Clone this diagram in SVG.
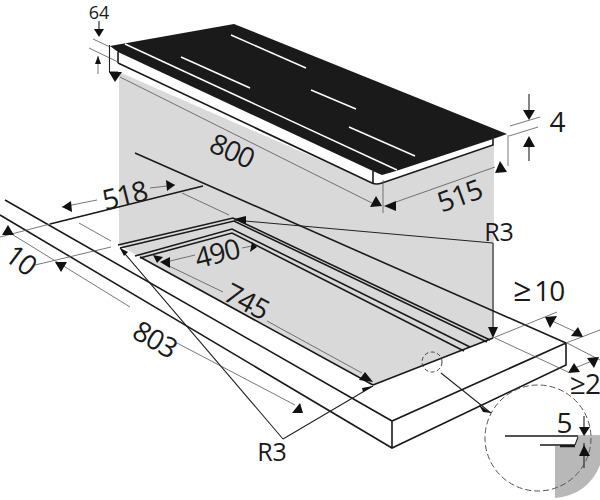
<svg xmlns="http://www.w3.org/2000/svg" width="600" height="500" viewBox="0 0 600 500">
<style>
text{font-family:"Open Sans","Noto Sans","Liberation Sans",sans-serif;fill:#1a1a1a;text-anchor:middle}
.d{font-size:28px;letter-spacing:-1px}
.r{font-size:25px;letter-spacing:0}
.t{fill:none;stroke:#555;stroke-width:.8}
.m{fill:none;stroke:#222;stroke-width:1.1}
.k{fill:none;stroke:#1a1a1a;stroke-width:1.6}
.w{fill:none;stroke:#fff;stroke-width:1.5}
.a{fill:#111}
</style>
<rect width="600" height="500" fill="#fff"/>
<path d="M119 72L375 184L494 144V338L373 385L140 257L119 245Z" fill="#d9d9d9"/>
<path d="M555 446H575L578 437H600V465Q588 495 555 498Z" fill="#b8b8b8"/>
<g id="hob">
<path d="M110 46L234 24L507 134L493 139L396 171L382 175L375 172L118 52Z" fill="#1a1a1a"/>
<path d="M117 53L375 174L382 177L493 140V145L382 183Q376 185 372 183L118 63Z" fill="#fff"/>
<path class="k" d="M118 63L372 183Q376 185 382 183L493 145V139"/>
<path d="M118 52V63M373 171V183" class="k"/>
<path class="w" d="M125 44L397 170M181 57L250 88M231 35L306 68M311 90L356 109M349 127L415 156"/>
</g>
<g id="counter">
<path class="k" d="M5 200L392 421L566 343M135 153L566 343M0 215L392 448L566 365V343M392 421V448M373 385L493 338"/>
<path class="k" d="M50 224L203 186"/>
</g>
<g id="cutout">
<path class="k" d="M118 245L233 218L490 340M120 248L234 221L487 342M135 256L232 229L470 347M140 258L232 233L464 351M140 257L373 385" stroke-width="1.3"/>
</g>
<g id="connectors">
<path class="t" d="M0 237L50 224M79 223L111 241M182 193L229 215M35 265L111 247M62 207L97 200M150 188L175 185M10 233L130 307M177 343L295 405M120 77L372 203M93 39L110 47M89 48L118 62M98 56V74M510 126L540 117M509 136L538 127M508 135V166M383 180V213M393 203L495 167M170 261L195 255M242 248L252 246M167 265L223 292M267 321L362 373M493 338L557 312M566 343L600 330M495 338L568 372M567 343L600 360M550 320L578 333M575 368L592 361M578 436H600"/>
<path class="m" d="M99 21V30M109.500 45V72H118M529 94V112M529 145V161M283 439L120 248M283 439L373 386M493 243L234 220M493 243V330M441 373L491 413M584 416V429M584 443V468M575 445L578 437"/>
<path class="k" d="M505 436H578M540 445H575M560 446.500H575"/>
<circle cx="432" cy="362" r="10" fill="none" stroke="#444" stroke-dasharray="4 2.500"/>
<circle cx="538" cy="438" r="53" fill="none" stroke="#555" stroke-dasharray="6 3"/>
<g class="a">
<path d="M94 29H104L99 37Z"/>
<path d="M109 72H122L115 82Z"/>
<path d="M98 56L95 64H101Z"/>
<path d="M523 110H535L529 120Z"/>
<path d="M529 136L535 147H523Z"/>
<path d="M62 207L71 201L72 212Z"/>
<path d="M175 185L166 180L167 191Z"/>
<path d="M8 225L14 235H2Z"/>
<path d="M55 262H67L61 272Z"/>
<path d="M292 413L300 403L303 413Z"/>
<path d="M507 172L495 173L500 161Z"/>
<path d="M384 206L396 201L396 211Z"/>
<path d="M382 206L376 196L370 207Z"/>
<path d="M120 248L128 252L124 256Z"/>
<path d="M373 386L363 392L362 388Z"/>
<path d="M234 219L246 216L246 224Z"/>
<path d="M493 338L488 327H498Z"/>
<path d="M153 255L163 257L157 263Z"/>
<path d="M160 262L170 257V268Z"/>
<path d="M252 242L257 247L250 252Z"/>
<path d="M373 382L365 372L359 380Z"/>
<path d="M545 317L557 316L550 328Z"/>
<path d="M583 337L571 336L578 327Z"/>
<path d="M599 357L587 358L594 368Z"/>
<path d="M568 373L580 372L574 363Z"/>
<path d="M491 413L479 405L483 412Z"/>
<path d="M579 427H590L584 436Z"/>
<path d="M584 445L590 456H579Z"/>
</g>
</g>
<g id="labels">
<text x="99" y="19" style="font-size:18px">64</text>
<text class="d" transform="translate(228 160) rotate(24)">800</text>
<text class="d" transform="translate(127 205) rotate(-14)">518</text>
<text class="d" transform="translate(15 268) rotate(37)">10</text>
<text class="d" transform="translate(150 348) rotate(30)">803</text>
<text class="d" transform="translate(463 205) rotate(-20)">515</text>
<text class="d" x="557" y="132">4</text>
<text class="d r" x="499" y="241">R3</text>
<text class="d r" x="272" y="461">R3</text>
<text class="d" transform="translate(219.500 263) rotate(-14)">490</text>
<text class="d" transform="translate(242 310) rotate(28)">745</text>
<text class="d" x="513" y="301" style="text-anchor:start"><tspan style="font-size:32px">≥</tspan><tspan dx="4">10</tspan></text>
<text class="d" x="570" y="394" style="text-anchor:start">≥2</text>
<text class="d" x="564" y="433">5</text>
</g>
</svg>
